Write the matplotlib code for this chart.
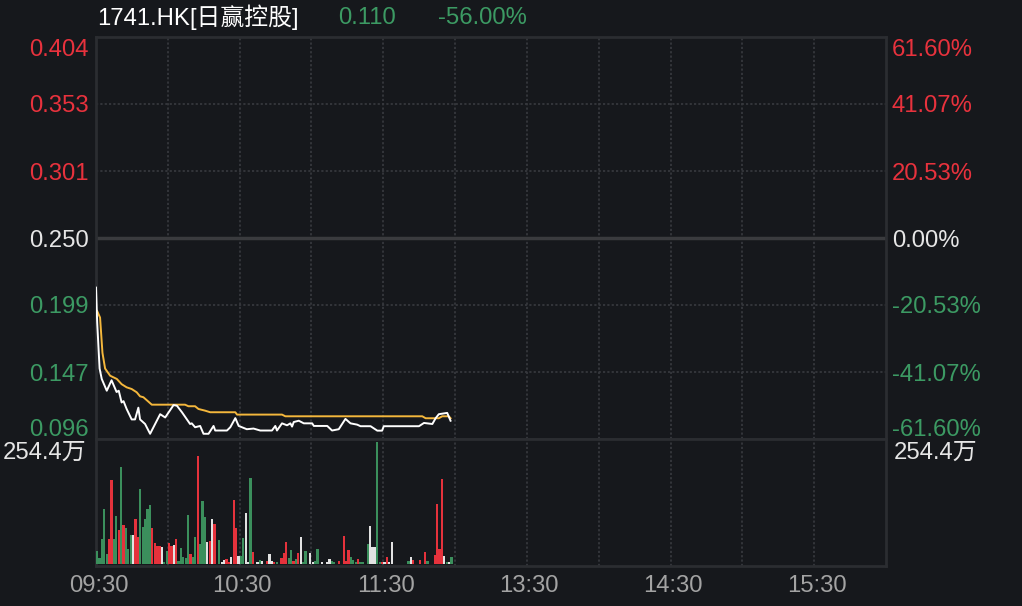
import matplotlib
matplotlib.use("Agg")
import matplotlib.pyplot as plt
from matplotlib.transforms import blended_transform_factory, offset_copy

plt.rcParams['font.family'] = ['Liberation Sans', 'Noto Sans CJK SC']

# --- data ---
title_name = "1741.HK[日赢控股]"
last_price = "0.110"
last_change = "-56.00%"
prev_close = 0.250

price_labels = ["0.404", "0.353", "0.301", "0.250", "0.199", "0.147", "0.096"]
pct_labels = ["61.60%", "41.07%", "20.53%", "0.00%", "-20.53%", "-41.07%", "-61.60%"]
pct_levels = [61.60, 41.07, 20.53, 0.0, -20.53, -41.07, -61.60]

time_labels = ["09:30", "10:30", "11:30", "13:30", "14:30", "15:30"]
time_pos = [0, 60, 120, 180, 240, 300]   # minutes from open (lunch break removed)

# price line (minute, price)
px_min = [0, 0.5, 1.5, 2.4, 4.5, 6.5, 8.6, 9.5, 10.7, 11.5, 12.8, 14.9, 16.3, 17.7,
          18.4, 20.5, 22.6, 24.0, 26.8, 28.9, 32.4, 33.8, 35.9, 39.3, 40.0, 41.4,
          43.5, 44.9, 47.0, 49.1, 49.8, 54.7, 56.1, 58.2, 59.6, 63.0, 65.8, 68.6,
          73.5, 74.9, 75.6, 77.7, 79.8, 81.2, 81.9, 82.6, 84.7, 86.8, 90.3, 91.0,
          96.6, 98.6, 101.4, 104.2, 106.3, 109.1, 110.5, 114.7, 117.5, 119.5,
          120.2, 134.9, 137.0, 140.5, 141.9, 143.2, 146.7, 147.4, 148.1]
px_val = [0.212, 0.185, 0.150, 0.142, 0.133, 0.141, 0.132, 0.133, 0.124, 0.125,
          0.119, 0.111, 0.111, 0.120, 0.111, 0.1075, 0.100, 0.105, 0.115, 0.1125,
          0.122, 0.1215, 0.1165, 0.1075, 0.108, 0.105, 0.106, 0.100, 0.100, 0.106,
          0.1025, 0.1025, 0.105, 0.112, 0.106, 0.1035, 0.104, 0.1025, 0.1025,
          0.106, 0.1025, 0.108, 0.1065, 0.108, 0.1055, 0.109, 0.110, 0.108, 0.108,
          0.106, 0.106, 0.1025, 0.1035, 0.1114, 0.108, 0.107, 0.1058, 0.1058,
          0.1024, 0.1024, 0.1058, 0.1058, 0.1083, 0.1075, 0.112, 0.115, 0.116,
          0.113, 0.110]

# average price line (minute, price)
avg_min = [0.5, 1.7, 2.7, 3.8, 5.9, 8.7, 10.7, 12.8, 14.9, 17.0, 18.4, 19.8, 21.9,
           23.3, 37.2, 38.6, 41.4, 42.8, 45.6, 47.7, 58.2, 58.9, 77.7, 79.1,
           136.3, 137.7, 143.2, 144.6, 147.4, 148.1]
avg_val = [0.194, 0.189, 0.162, 0.150, 0.1445, 0.142, 0.138, 0.1356, 0.1343,
           0.1318, 0.1287, 0.128, 0.1246, 0.1223, 0.1223, 0.1211, 0.1211, 0.119,
           0.1177, 0.1165, 0.1165, 0.1147, 0.1147, 0.1134, 0.1134, 0.1119, 0.1119,
           0.1134, 0.1134, 0.1119]

# volume per minute (万)
vol = [27, 12.5, 52, 114, 21, 52, 175, 52, 100, 71,
       202, 81, 75, 31, 60, 60, 94, 56, 156, 77,
       94, 114, 123, 75, 44, 37, 37, 35, 4, 27,
       44, 37, 40, 52, 6, 33, 15, 12, 102, 21,
       15, 56, 225, 42, 131, 98, 46, 48, 94, 83,
       0, 50, 4, 8, 10, 4, 15, 133, 75, 17,
       17, 54, 106, 4, 179, 25, 0, 4, 8, 6,
       0, 6, 21, 6, 4, 4, 0, 12, 23, 46,
       12, 29, 6, 10, 23, 56, 4, 27, 0, 23,
       4, 6, 31, 0, 4, 0, 4, 10, 6, 4,
       0, 6, 0, 58, 6, 29, 15, 8, 4, 10,
       4, 4, 0, 42, 79, 35, 35, 254.4, 4, 4,
       4, 15, 4, 46, 0, 0, 0, 0, 0, 0,
       6, 15, 8, 0, 0, 8, 0, 25, 6, 0,
       0, 19, 125, 31, 177, 17, 4, 4, 15]
# bar colour per minute: g = down, r = up, w = flat
vol_dir = ("gggggrrggr grgggwrrgg gggrrrrwgg rrwrgggggr ggrgggwrwr "
           "wgwwrrwrrw ggwwgrwwgw wrwwrgwrrr ggrgrwggww wggwwwwwgg "
           "wrwrrrgggr ggwgwwwggr wrwwwwwwww gwrwwrwrgw wrrrrwgwg").replace(" ", "")

vol_max_label = "254.4万"

# --- styles ---
bg = '#16181c'
frame = '#2b2d31'
grid = '#36383d'
red = '#e8323d'
green = '#3c9a63'
light = '#e6e6e6'
gray = '#a3a3a3'
bar_col = {'g': '#3b8f5c', 'r': '#e5323c', 'w': '#e2e2e2'}
fs = 17.2

W, H = 1022, 606


def box(x0, y0, x1, y1):
    return [x0 / W, 1 - y1 / H, (x1 - x0) / W, (y1 - y0) / H]


fig = plt.figure(figsize=(W / 100, H / 100), dpi=100, facecolor=bg)
ax = fig.add_axes(box(96, 37, 886, 439), facecolor=bg)
axv = fig.add_axes(box(96, 439, 886, 566), facecolor=bg, sharex=ax)

levels = [prev_close * (1 + p / 100) for p in pct_levels]
ax.set_xlim(0, 330)
ax.set_ylim(levels[-1], levels[0])

for a in (ax, axv):
    a.set_xticks([])
    a.set_yticks([])
    for s in a.spines.values():
        s.set_color(frame)
        s.set_linewidth(2)
    for t in range(30, 330, 30):
        a.axvline(t, color=grid, lw=1.3, ls=(0, (1.2, 1.2)), zorder=0)

for lv in levels[1:-1]:
    if abs(lv - prev_close) < 1e-9:
        ax.axhline(lv, color='#3a3b3e', lw=2.5, zorder=1)
    else:
        ax.axhline(lv, color=grid, lw=1.3, ls=(0, (1.2, 1.2)), zorder=0)

ax.plot(avg_min, avg_val, color='#f4b73c', lw=1.4, zorder=3)
ax.plot(px_min, px_val, color='white', lw=1.4, zorder=4)

# volume bars
mins = list(range(len(vol)))
cols = [bar_col[c] for c in vol_dir]
axv.bar([m + 0.5 for m in mins], vol, width=0.92, color=cols, lw=0, zorder=3)
axv.set_ylim(-4, 260)

# axis labels (baseline placed ~8.5px below the visual centre)
tl = blended_transform_factory(fig.transFigure, ax.transData)
n = len(levels)
for i, (lv, pl, cl) in enumerate(zip(levels, price_labels, pct_labels)):
    c = red if pct_levels[i] > 0 else (green if pct_levels[i] < 0 else light)
    shift = -10 if i == 0 else (11 if i == n - 1 else 0)
    tr = offset_copy(tl, fig=fig, x=0, y=shift - 8.5, units='dots')
    ax.text(89 / W, lv, pl, transform=tr, ha='right', va='baseline', color=c, fontsize=fs)
    ax.text(892 / W, lv, cl, transform=tr, ha='left', va='baseline', color=c, fontsize=fs)

fig.text(86 / W, 1 - 458.5 / H, vol_max_label, ha='right', va='baseline', color=light, fontsize=fs)
fig.text(894 / W, 1 - 458.5 / H, vol_max_label, ha='left', va='baseline', color=light, fontsize=fs)

tx = blended_transform_factory(axv.transData, fig.transFigure)
for t, lab in zip(time_pos, time_labels):
    axv.text(t + 1, 1 - 591.5 / H, lab, transform=tx, ha='center', va='baseline',
             color=gray, fontsize=fs)

# header
fig.text(97 / W, 1 - 24.5 / H, title_name, ha='left', va='baseline', color='white', fontsize=fs)
fig.text(338 / W, 1 - 24.5 / H, last_price, ha='left', va='baseline', color=green, fontsize=fs)
fig.text(438 / W, 1 - 24.5 / H, last_change, ha='left', va='baseline', color=green, fontsize=fs)

fig.savefig('out.png', dpi=100, facecolor=bg)
